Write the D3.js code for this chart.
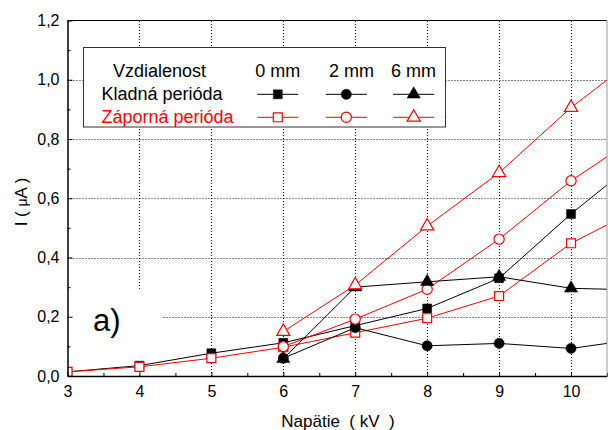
<!DOCTYPE html>
<html><head><meta charset="utf-8">
<script src="https://cdn.jsdelivr.net/npm/d3@7"></script>
<style>
html,body{margin:0;padding:0;background:#fff;}
svg{display:block;font-family:"Liberation Sans",Arial,sans-serif;}
</style></head>
<body>
<script>
// ---- data ----
const xFull = [3, 4, 5, 6, 7, 8, 9, 10, 11];
const xHalf = [6, 7, 8, 9, 10, 11];
const kladna0 = [0.014, 0.035, 0.077, 0.112, 0.17, 0.228, 0.33, 0.547, 0.743];
const zaporna0 = [0.014, 0.031, 0.06, 0.097, 0.146, 0.195, 0.27, 0.448, 0.572];
const kladna2 = [0.06, 0.163, 0.102, 0.11, 0.093, 0.127];
const zaporna2 = [0.099, 0.192, 0.293, 0.462, 0.659, 0.821];
const kladna6 = [0.058, 0.30, 0.318, 0.335, 0.296, 0.29];
const zaporna6 = [0.15, 0.307, 0.506, 0.686, 0.906, 1.092];
const xTicks = [3, 4, 5, 6, 7, 8, 9, 10];
const yTicks = [0, 0.2, 0.4, 0.6, 0.8, 1.0, 1.2];
const legendHeader = ["Vzdialenost", "0 mm", "2 mm", "6 mm"];
const legendRows = ["Kladná perióda", "Záporná perióda"];

const W = 608, H = 430;
const svg = d3.select("body").append("svg").attr("width", W).attr("height", H);
const x = d3.scaleLinear().domain([3, 10.5]).range([67.5, 607]);
const y = d3.scaleLinear().domain([0, 1.2]).range([376, 20.5]);
const fmt = d => d3.format(".1f")(d).replace(".", ",");

// gridlines
const grid = svg.append("g").attr("stroke", "#111").attr("stroke-width", 1).attr("stroke-dasharray", "1,2");
grid.selectAll("line.v").data(xTicks.filter(d => d > 3)).join("line")
  .attr("x1", d => Math.round(x(d)) + 0.5).attr("x2", d => Math.round(x(d)) + 0.5)
  .attr("y1", y(0)).attr("y2", y(1.2));
grid.selectAll("line.h").data(yTicks.filter(d => d > 0 && d < 1.2)).join("line")
  .attr("y1", d => Math.round(y(d)) + 0.5).attr("y2", d => Math.round(y(d)) + 0.5)
  .attr("x1", x(3)).attr("x2", x(10.5));

// white box behind "a)"
svg.append("rect").attr("x", x(3) + 1).attr("y", 289).attr("width", 162 - x(3) - 1).attr("height", y(0) - 289 - 1).attr("fill", "#fff");
svg.append("text").attr("x", 93).attr("y", 331).attr("font-size", 31).attr("fill", "#000").text("a)");

// clip
svg.append("clipPath").attr("id", "clip").append("rect")
  .attr("x", x(3)).attr("y", y(1.2)).attr("width", x(10.5) - x(3)).attr("height", y(0) - y(1.2));

const symSq = d3.symbol().type(d3.symbolSquare).size(80);
const symCi = d3.symbol().type(d3.symbolCircle).size(82);
const symTr = d3.symbol().type(d3.symbolTriangle).size(75);

const series = [
  {xs: xFull, ys: kladna0, color: "#000", sym: symSq, fill: true},
  {xs: xFull, ys: zaporna0, color: "#ff0000", sym: symSq, fill: false},
  {xs: xHalf, ys: kladna2, color: "#000", sym: symCi, fill: true},
  {xs: xHalf, ys: zaporna2, color: "#ff0000", sym: symCi, fill: false},
  {xs: xHalf, ys: kladna6, color: "#000", sym: symTr, fill: true},
  {xs: xHalf, ys: zaporna6, color: "#ff0000", sym: symTr, fill: false},
];

const plot = svg.append("g").attr("clip-path", "url(#clip)");
const line = d3.line().x(d => x(d[0])).y(d => y(d[1]));
series.forEach(s => {
  const pts = s.xs.map((v, i) => [v, s.ys[i]]);
  const g = plot.append("g");
  g.append("path").datum(pts).attr("d", line).attr("fill", "none").attr("stroke", s.color).attr("stroke-width", 1);
  g.selectAll("path.m").data(pts).join("path").attr("class", "m")
    .attr("transform", d => `translate(${x(d[0])},${y(d[1])})`)
    .attr("d", s.sym())
    .attr("fill", s.fill ? s.color : "#fff")
    .attr("stroke", s.color).attr("stroke-width", s.fill ? 0.5 : 1.2);
});

// legend
const lg = svg.append("g");
lg.append("rect").attr("x", 83.5).attr("y", 47.5).attr("width", 362).attr("height", 79.5)
  .attr("fill", "#fff").attr("stroke", "#333").attr("stroke-width", 1);
const colX = [159.6, 277.8, 351.5, 413.6];
lg.selectAll("text.h").data(legendHeader).join("text").attr("class", "h")
  .attr("x", (d, i) => colX[i]).attr("y", 77).attr("text-anchor", "middle")
  .attr("font-size", 18).attr("fill", "#000").text(d => d);
const rowY = [94.3, 117.3];
const rowBase = [100, 122.7];
lg.selectAll("text.r").data(legendRows).join("text").attr("class", "r")
  .attr("x", 101.5).attr("y", (d, i) => rowBase[i]).attr("font-size", 18)
  .attr("fill", (d, i) => i === 0 ? "#000" : "#ff0000").text(d => d);
const legMarkX = [277.8, 346.3, 413.7];
series.forEach((s, i) => {
  const col = Math.floor(i / 2), row = i % 2;
  const cx = legMarkX[col], cy = rowY[row];
  lg.append("line").attr("x1", cx - 20.5).attr("x2", cx + 20.5).attr("y1", cy).attr("y2", cy)
    .attr("stroke", s.color).attr("stroke-width", 1);
  lg.append("path").attr("transform", `translate(${cx},${cy})`).attr("d", s.sym())
    .attr("fill", s.fill ? s.color : "#fff").attr("stroke", s.color).attr("stroke-width", s.fill ? 0.5 : 1.2);
});

// axes
const yAxis = d3.axisLeft(y).tickValues(yTicks).tickFormat(fmt).tickSizeInner(-5).tickSizeOuter(0).tickPadding(8);
const yg = svg.append("g").attr("transform", `translate(${x(3)},0)`).call(yAxis);
const yMinor = d3.axisLeft(y).tickValues([0.1, 0.3, 0.5, 0.7, 0.9, 1.1]).tickFormat("").tickSizeInner(-3).tickSizeOuter(0);
svg.append("g").attr("transform", `translate(${x(3)},0)`).call(yMinor).select(".domain").remove();
const xAxis = d3.axisBottom(x).tickValues(xTicks).tickFormat(d3.format("d")).tickSizeInner(-4).tickSizeOuter(0).tickPadding(10);
const xg = svg.append("g").attr("transform", `translate(0,${y(0)})`).call(xAxis);
const xMinor = d3.axisBottom(x).tickValues([3.5, 4.5, 5.5, 6.5, 7.5, 8.5, 9.5, 10.5]).tickFormat("").tickSizeInner(-3).tickSizeOuter(0);
svg.append("g").attr("transform", `translate(0,${y(0)})`).call(xMinor).select(".domain").remove();
[yg, xg].forEach(g => {
  g.select(".domain").attr("stroke", "#000").attr("stroke-width", 1.5);
  g.selectAll(".tick text").attr("font-size", 16).attr("fill", "#000").attr("font-family", "Liberation Sans, Arial, sans-serif");
  g.selectAll(".tick line").attr("stroke", "#000");
});
// top and right border
svg.append("line").attr("x1", x(3)).attr("x2", x(10.5)).attr("y1", 20.5).attr("y2", 20.5).attr("stroke", "#000").attr("stroke-width", 1);
svg.append("line").attr("x1", 607).attr("x2", 607).attr("y1", 20.5).attr("y2", y(0)).attr("stroke", "#999").attr("stroke-width", 1);

// axis titles
svg.append("text").attr("x", 338).attr("y", 427).attr("text-anchor", "middle").attr("font-size", 17)
  .attr("fill", "#000").attr("xml:space", "preserve").style("white-space", "pre").text("Napätie  ( kV  )");
const yt = svg.append("text").attr("transform", "translate(27,202) rotate(-90)").attr("text-anchor", "middle")
  .attr("font-size", 17).attr("fill", "#000").style("white-space", "pre");
yt.append("tspan").text("I ( ");
yt.append("tspan").attr("font-size", 14).text("μ");
yt.append("tspan").text("A )");
</script>
</body></html>
